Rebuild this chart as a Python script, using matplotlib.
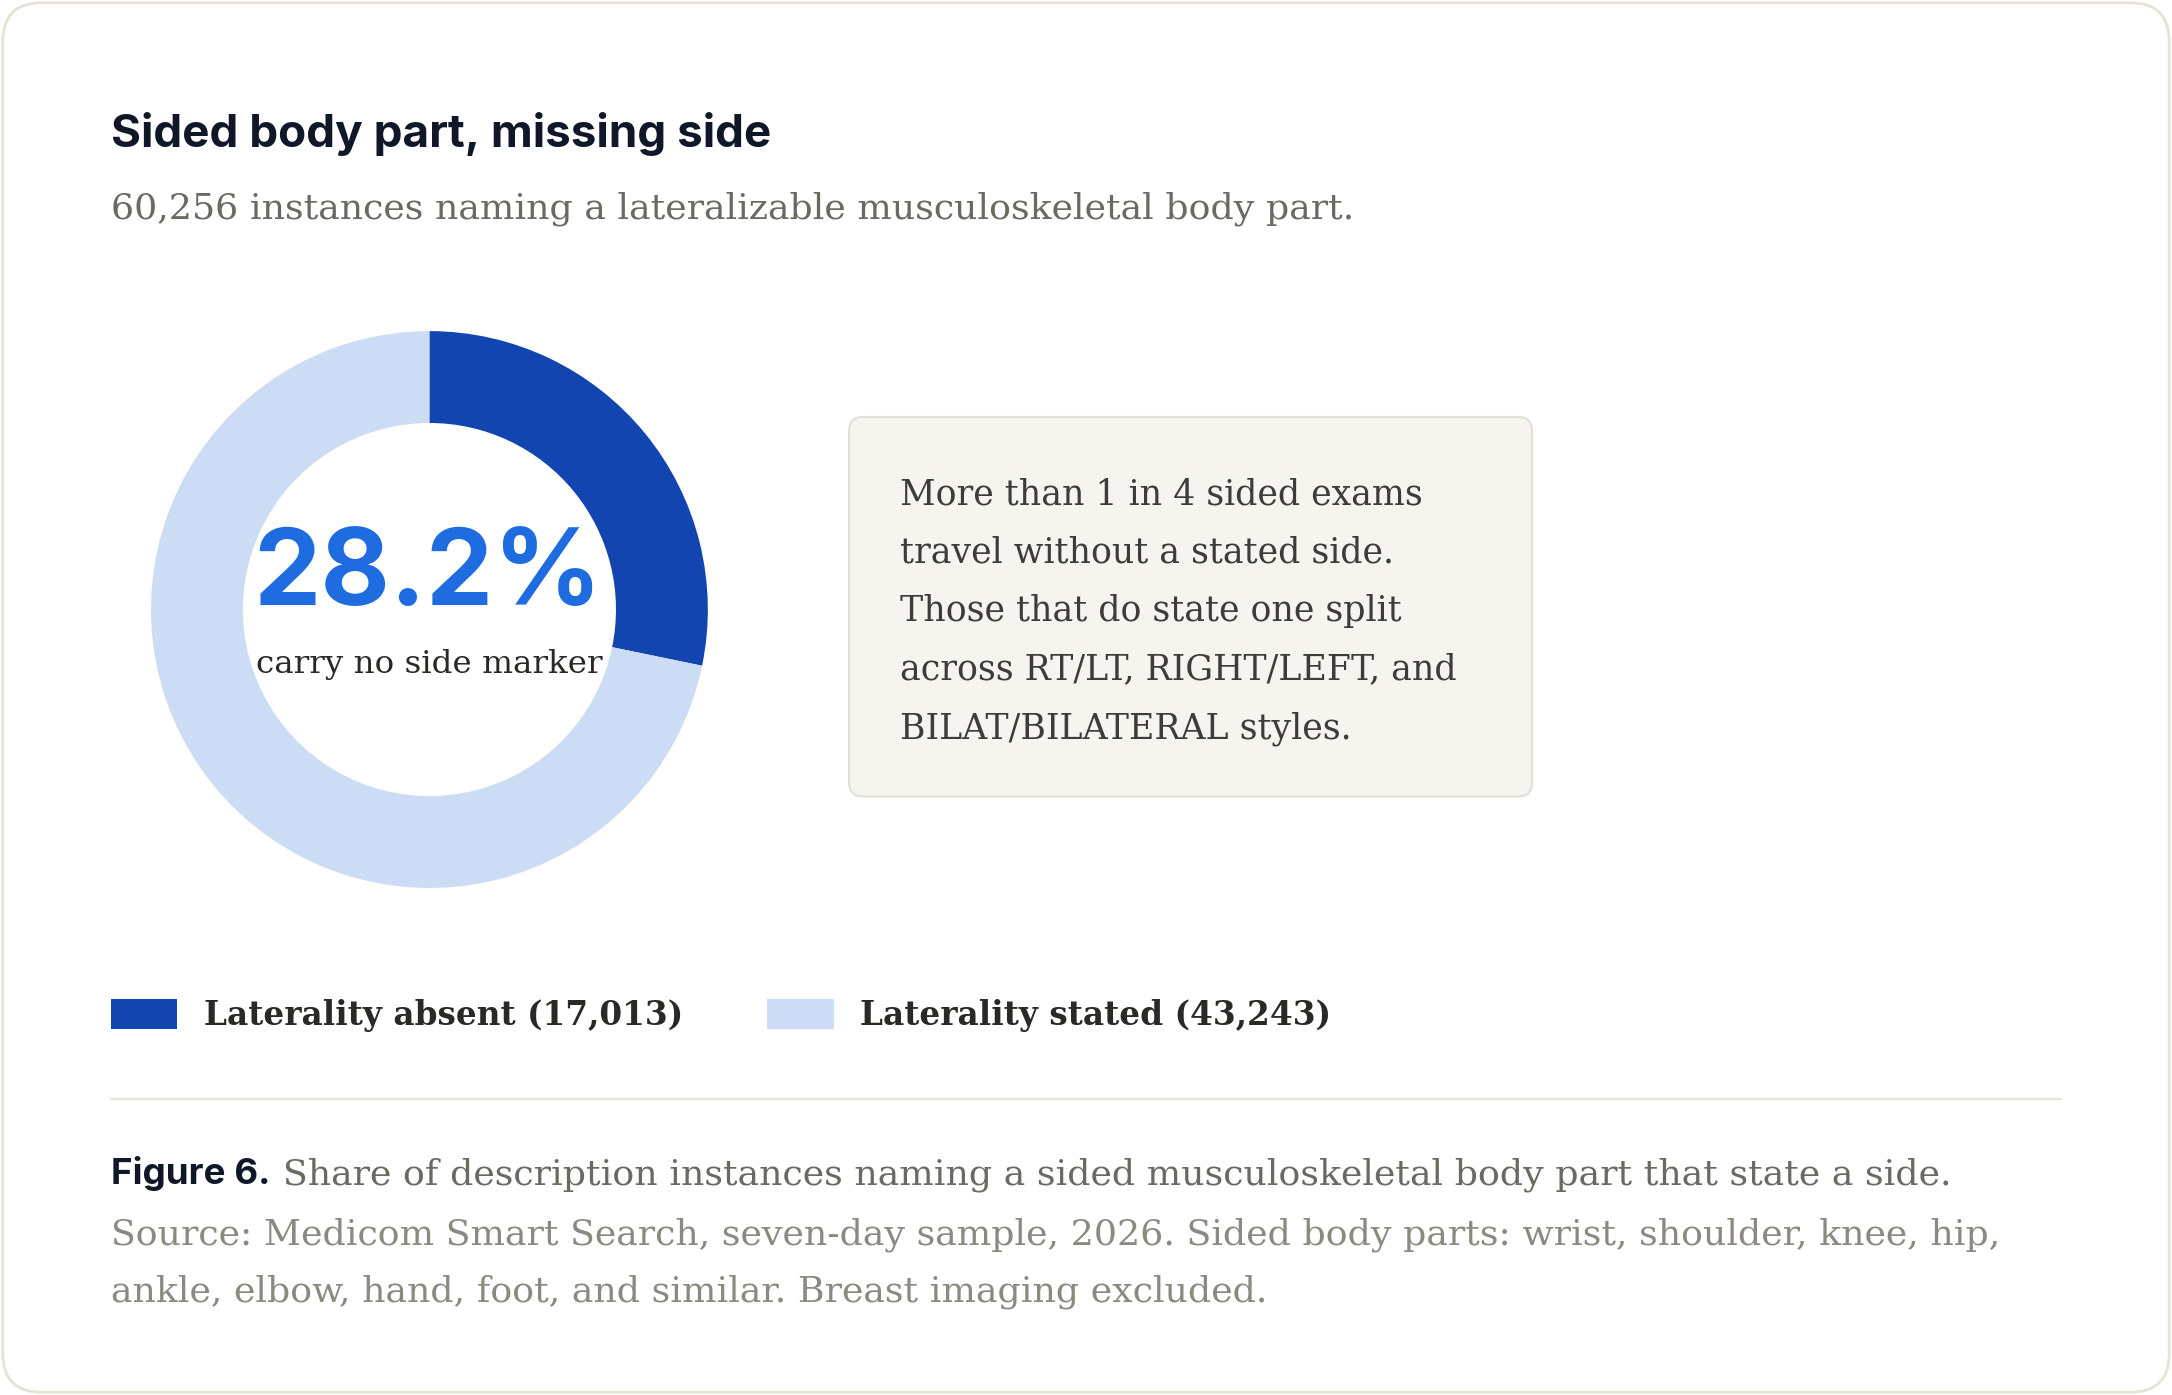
import numpy as np
import matplotlib.pyplot as plt
from matplotlib.patches import FancyBboxPatch, Patch

# data
categories = ['Laterality absent', 'Laterality stated']
counts = [17013, 43243]
colors = ['#1345b0', '#cbdcf4']

title = 'Sided body part, missing side'
subtitle = '60,256 instances naming a lateralizable musculoskeletal body part.'
center_label = 'carry no side marker'
note_lines = ['More than 1 in 4 sided exams',
              'travel without a stated side.',
              'Those that do state one split',
              'across RT/LT, RIGHT/LEFT, and',
              'BILAT/BILATERAL styles.']
caption_lead = 'Figure 6.'
caption_text = 'Share of description instances naming a sided musculoskeletal body part that state a side.'
source_lines = ['Source: Medicom Smart Search, seven-day sample, 2026. Sided body parts: wrist, shoulder, knee, hip,',
                'ankle, elbow, hand, foot, and similar. Breast imaging excluded.']

SANS = ['Inter', 'DejaVu Sans']
SERIF = ['DejaVu Serif']

# layout grid: 1568 x 1007 units, y going down
W, H = 1568, 1007
fig = plt.figure(figsize=(21.72, 13.95), dpi=100)
fig.patch.set_facecolor('white')

bg = fig.add_axes([0, 0, 1, 1])
bg.set_xlim(0, W)
bg.set_ylim(H, 0)
bg.axis('off')

# card outline
bg.add_patch(FancyBboxPatch((2, 2), W - 4, H - 4,
                            boxstyle='round,pad=0,rounding_size=28',
                            fc='white', ec='#e6e2d6', lw=2))

# title + subtitle
bg.text(80, 106, title, family=SANS, fontweight='bold', fontsize=33,
        color='#0f1729', va='baseline')
bg.text(80, 158, subtitle, family=SERIF, fontsize=26.2,
        color='#6b6a62', va='baseline')

# donut
ax = fig.add_axes([109 / W, 1 - 641 / H, 402 / W, 402 / H])
ax.pie(counts, colors=colors, startangle=90, counterclock=False,
       wedgeprops=dict(width=0.33, edgecolor='none'))
ax.set_xlim(-1, 1)
ax.set_ylim(-1, 1)
ax.set_aspect('equal')
ax.axis('off')

share = counts[0] / sum(counts) * 100
ax.text(-0.005, 0.015, f'{share:.1f}%', family=SANS, fontweight='bold',
        fontsize=77, color='#1f6be0', ha='center', va='baseline')
ax.text(0.0, -0.229, center_label, family=SERIF, fontsize=23.4,
        color='#2a2925', ha='center', va='baseline')

# note box
bg.add_patch(FancyBboxPatch((613, 301), 493, 274,
                            boxstyle='round,pad=0,rounding_size=10',
                            fc='#f5f4ef', ec='#e2dfd4', lw=1.5))
for i, line in enumerate(note_lines):
    bg.text(650, 364 + i * 42.2, line, family=SERIF, fontsize=25,
            color='#3d3c38', va='baseline')

# legend
handles = [Patch(fc=c, ec='none', label=f'{cat} ({n:,})')
           for cat, n, c in zip(categories, counts, colors)]
fig.legend(handles=handles, loc='center left', bbox_to_anchor=(80 / W, 1 - 733 / H),
           ncol=2, frameon=False, borderpad=0, borderaxespad=0,
           prop=dict(family=SERIF, weight='bold', size=23.6),
           handlelength=2.03, handleheight=1.06, handletextpad=0.8,
           columnspacing=2.58, labelcolor='#2a2925')

# separator
bg.plot([80, 1488], [793, 793], color='#e8e5dc', lw=1.5)

# caption
lead = bg.text(80, 855, caption_lead, family=SANS, fontweight='bold',
               fontsize=26.5, color='#0f1729', va='baseline')
fig.canvas.draw()
ext = lead.get_window_extent()
x_end = bg.transData.inverted().transform((ext.x1, ext.y0))[0]
bg.text(x_end + 9, 855, caption_text, family=SERIF, fontsize=26.2,
        color='#6b6a62', va='baseline')
for i, line in enumerate(source_lines):
    bg.text(80, 898 + i * 41.5, line, family=SERIF, fontsize=26.2,
            color='#8c8a80', va='baseline')

fig.savefig('out.png', dpi=100, facecolor=fig.get_facecolor())
